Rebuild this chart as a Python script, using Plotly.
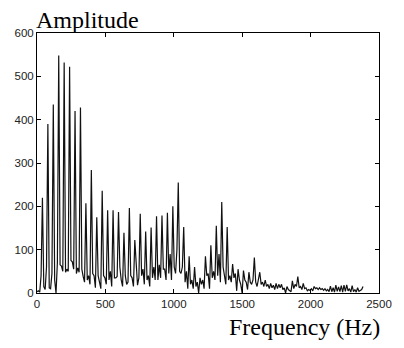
import plotly.graph_objects as go

# Frequency bin spacing (Hz) of the spectrum samples
DF = 9.93

# Amplitude of each spectrum bin (4 bins per harmonic, ~39.7 Hz fundamental)
amplitude = [
    3, 5, 2, 40,
    220, 15, 8, 60,
    390, 12, 10, 45,
    435, 30, 0, 70,
    548, 65, 62, 50,
    532, 48, 55, 50,
    522, 75, 72, 55,
    420, 45, 58, 48,
    428, 55, 38, 25,
    207, 30, 40, 20,
    284, 45, 40, 12,
    175, 40, 25, 10,
    236, 40, 35, 20,
    191, 30, 50, 15,
    191, 35, 35, 38,
    187, 60, 30, 15,
    139, 40, 20, 25,
    196, 40, 35, 15,
    122, 60, 18, 35,
    183, 40, 55, 20,
    142, 30, 40, 15,
    151, 35, 60, 30,
    177, 30, 65, 35,
    179, 55, 55, 30,
    185, 45, 90, 30,
    200, 60, 45, 100,
    255, 50, 45, 60,
    152, 25, 50, 10,
    85, 20, 30, 10,
    60, 15, 25, 0,
    35, 20, 30, 10,
    85, 40, 45, 10,
    110, 35, 50, 30,
    155, 40, 90, 25,
    210, 60, 40, 20,
    152, 30, 40, 25,
    67, 35, 45, 5,
    55, 30, 20, 0,
    52, 30, 25, 8,
    48, 25, 20, 30,
    82, 25, 15, 35,
    48, 20, 25, 15,
    30, 15, 20, 10,
    22, 12, 18, 8,
    22, 10, 20, 12,
    20, 8, 12, 0,
    15, 8, 5, 3,
    28, 10, 20, 15,
    38, 12, 15, 8,
    22, 10, 12, 5,
    8, 6, 10, 5,
    15, 10, 12, 8,
    12, 8, 10, 6,
    10, 5, 8, 3,
    16, 3, 12, 2,
    18, 4, 14, 3,
    17, 2, 18, 4,
    19, 5, 10, 2,
    17, 3, 8, 2,
    12, 4, 6, 8,
    15,
]
frequency = [i * DF for i in range(len(amplitude))]

x_ticks = [0, 500, 1000, 1500, 2000, 2500]
y_ticks = [0, 100, 200, 300, 400, 500, 600]

fig = go.Figure()
fig.add_trace(go.Scatter(
    x=frequency, y=amplitude, mode="lines",
    line=dict(color="#111111", width=1.2),
    hoverinfo="skip", showlegend=False,
))

tick_font = dict(family="Liberation Sans, Arial, sans-serif", size=11.5, color="#222222")
axis_common = dict(
    showgrid=False, zeroline=False, showline=True, linecolor="black", linewidth=1,
    mirror="ticks", ticks="inside", ticklen=4, tickcolor="black", tickwidth=1,
    tickfont=tick_font,
)
fig.update_xaxes(range=[0, 2500], tickvals=x_ticks, ticktext=[str(v) for v in x_ticks], **axis_common)
fig.update_yaxes(range=[0, 600], tickvals=y_ticks, ticktext=[str(v) for v in y_ticks], **axis_common)

title_font = dict(family="Liberation Serif, Times New Roman, serif", size=24, color="black")
fig.update_layout(
    width=404, height=348,
    margin=dict(l=37, r=17, t=33, b=55),
    paper_bgcolor="white", plot_bgcolor="white",
    annotations=[
        dict(text="Amplitude", xref="paper", yref="paper", x=-0.009, y=1.05,
             xanchor="left", yanchor="middle", showarrow=False, font=title_font),
        dict(text="Frequency (Hz)", xref="paper", yref="paper", x=1.009, y=-0.131,
             xanchor="right", yanchor="middle", showarrow=False, font=title_font),
    ],
)

fig.write_html("out.html")
